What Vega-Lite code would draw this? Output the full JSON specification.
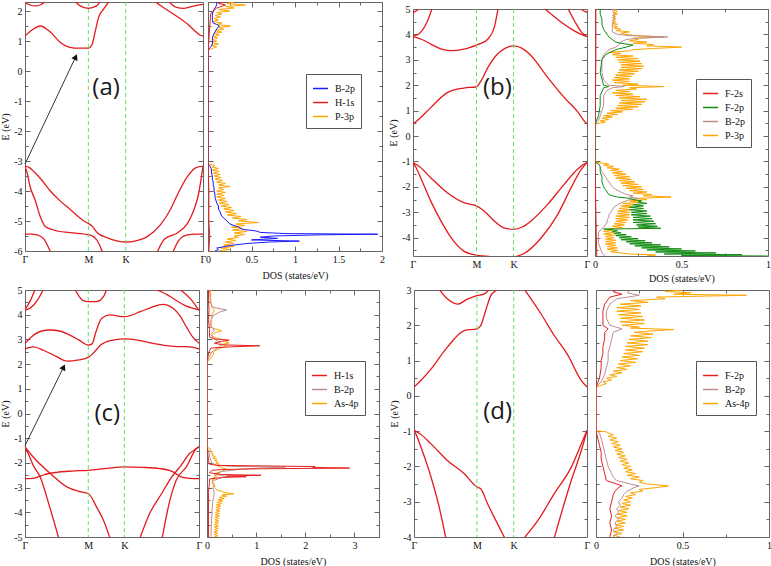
{
"$schema":"https://vega.github.io/schema/vega-lite/v6.json",
"background":"white",
"padding":{"left":0,"top":1,"right":0,"bottom":0},
"datasets":{
"bands":[
{"p":"a","b":"1","v":[[0,1.17],[0.1,1.35],[0.24,1.5],[0.4,1.3],[0.55,0.97],[0.71,0.79],[0.85,0.76],[1,0.76],[1.06,0.89],[1.11,1.33],[1.16,1.78],[1.24,2.06],[1.33,2.32]]},
{"p":"a","b":"2","v":[[2.04,2.33],[2.19,2.11],[2.35,1.89],[2.57,1.56],[2.7,1.3],[2.76,1.2],[2.81,1.17]]},
{"p":"a","b":"3","v":[[0,2.28],[0.08,2.2],[0.16,2.17],[0.24,2.2],[0.32,2.32]]},
{"p":"a","b":"4","v":[[0.79,2.33],[0.87,2.17],[1,2.09],[1.13,2.17],[1.19,2.32]]},
{"p":"a","b":"5","v":[[2.27,2.32],[2.38,2.13],[2.51,2.09],[2.67,2.17],[2.81,2.22]]},
{"p":"a","b":"6","v":[[0,-3.17],[0.07,-3.22],[0.13,-3.33],[0.25,-3.6],[0.4,-4],[0.55,-4.32],[0.71,-4.61],[0.85,-4.87],[0.93,-5],[1,-5.08],[1.06,-5.17],[1.14,-5.39],[1.3,-5.56],[1.45,-5.66],[1.59,-5.7],[1.75,-5.66],[1.93,-5.52],[2.14,-5.12],[2.3,-4.6],[2.4,-4.15],[2.55,-3.56],[2.7,-3.22],[2.81,-3.17]]},
{"p":"a","b":"7","v":[[0,-3.17],[0.04,-3.45],[0.08,-3.85],[0.16,-4.3],[0.24,-4.85],[0.32,-5.18],[0.45,-5.3],[0.71,-5.39],[1,-5.46],[1.08,-5.52],[1.14,-5.65],[1.22,-6.02]]},
{"p":"a","b":"8","v":[[2.09,-6.02],[2.2,-5.61],[2.41,-5.39],[2.57,-5.06],[2.67,-4.61],[2.74,-4.1],[2.78,-3.6],[2.81,-3.17]]},
{"p":"a","b":"9","v":[[0,-5.44],[0.1,-5.44],[0.19,-5.46],[0.29,-5.58],[0.4,-6.02]]},
{"p":"a","b":"10","v":[[2.34,-6.02],[2.42,-5.67],[2.55,-5.47],[2.7,-5.44],[2.81,-5.44]]},
{"p":"b","b":"1","v":[[0,0.47],[0.1,0.68],[0.28,1.12],[0.54,1.71],[0.8,1.89],[1,1.94],[1.07,2.17],[1.18,2.7],[1.33,3.23],[1.45,3.45],[1.584,3.55],[1.72,3.45],[1.86,3.16],[2.12,2.31],[2.38,1.52],[2.6,0.93],[2.68,0.65],[2.74,0.47]]},
{"p":"b","b":"2","v":[[0,3.91],[0.14,3.8],[0.28,3.62],[0.45,3.42],[0.62,3.36],[0.8,3.42],[1,3.58],[1.07,3.65],[1.18,3.82],[1.28,4.28],[1.34,5.02]]},
{"p":"b","b":"3","v":[[0,3.91],[0.12,4.08],[0.23,4.54],[0.3,5.02]]},
{"p":"b","b":"4","v":[[0,4.87],[0.05,4.92],[0.1,5.02]]},
{"p":"b","b":"5","v":[[2.07,5.02],[2.3,4.55],[2.5,4.2],[2.65,4],[2.74,3.91]]},
{"p":"b","b":"6","v":[[2.44,5.02],[2.55,4.5],[2.65,4.1],[2.74,3.91]]},
{"p":"b","b":"7","v":[[2.64,5.02],[2.69,4.92],[2.74,4.87]]},
{"p":"b","b":"8","v":[[0,-1.04],[0.1,-1.2],[0.28,-1.64],[0.54,-2.23],[0.8,-2.62],[1,-2.75],[1.12,-2.95],[1.28,-3.34],[1.43,-3.61],[1.584,-3.67],[1.72,-3.58],[1.86,-3.34],[2.12,-2.69],[2.38,-1.9],[2.59,-1.31],[2.68,-1.12],[2.74,-1.04]]},
{"p":"b","b":"9","v":[[0,-1.04],[0.05,-1.25],[0.12,-1.64],[0.28,-2.56],[0.44,-3.34],[0.6,-4],[0.8,-4.53],[1,-4.69],[1.2,-4.74]]},
{"p":"b","b":"10","v":[[1.62,-4.74],[1.75,-4.62],[2.02,-4],[2.28,-3.08],[2.49,-2.03],[2.65,-1.31],[2.74,-1.04]]},
{"p":"c","b":"1","v":[[0,2.62],[0.13,2.7],[0.3,2.55],[0.5,2.3],[0.66,2.12],[0.85,2.17],[1,2.27],[1.1,2.5],[1.2,2.78],[1.35,2.95],[1.57,3.02],[1.8,2.96],[2,2.85],[2.2,2.76],[2.4,2.71],[2.6,2.7],[2.75,2.62]]},
{"p":"c","b":"2","v":[[0,2.84],[0.1,3.1],[0.25,3.33],[0.4,3.38],[0.55,3.34],[0.7,3.18],[0.85,2.98],[1,2.77],[1.06,2.82],[1.12,3.3],[1.21,3.85],[1.34,3.99],[1.57,3.92],[1.82,4.12],[2,4.3],[2.18,4.42],[2.34,4.26],[2.45,3.95],[2.55,3.51],[2.65,3.1],[2.75,2.84]]},
{"p":"c","b":"3","v":[[0,4.2],[0.08,4.55],[0.16,5.02]]},
{"p":"c","b":"4","v":[[0,4.17],[0.1,4.3],[0.2,4.6],[0.29,5.02]]},
{"p":"c","b":"5","v":[[0.79,5.02],[0.92,4.57],[1,4.53],[1.13,4.53],[1.24,4.73],[1.29,5.02]]},
{"p":"c","b":"6","v":[[2.08,5.02],[2.25,4.8],[2.55,4.35],[2.75,4.2]]},
{"p":"c","b":"7","v":[[2.45,5.02],[2.63,4.6],[2.75,4.17]]},
{"p":"c","b":"8","v":[[0,-1.35],[0.13,-1.76],[0.4,-2.43],[0.66,-2.97],[0.85,-3.15],[1,-3.24],[1.13,-3.78],[1.24,-4.32],[1.34,-5.02]]},
{"p":"c","b":"9","v":[[0,-1.35],[0.05,-1.62],[0.13,-2.1],[0.24,-2.57],[0.39,-3.78],[0.53,-5.02]]},
{"p":"c","b":"10","v":[[0,-2.64],[0.12,-2.63],[0.2,-2.58],[0.3,-2.48],[0.5,-2.38],[0.75,-2.33],[1,-2.3],[1.3,-2.22],[1.57,-2.16],[1.85,-2.18],[2.13,-2.23],[2.34,-2.36],[2.47,-2.57],[2.6,-2.63],[2.75,-2.64]]},
{"p":"c","b":"11","v":[[1.82,-5.02],[1.97,-4.05],[2.16,-3.24],[2.32,-2.57],[2.47,-2.09],[2.6,-1.62],[2.71,-1.42],[2.75,-1.35]]},
{"p":"c","b":"12","v":[[2.17,-5.02],[2.29,-3.51],[2.39,-2.7],[2.55,-2.16],[2.71,-1.42],[2.75,-1.35]]},
{"p":"d","b":"1","v":[[0,0.25],[0.1,0.42],[0.27,0.76],[0.53,1.38],[0.8,1.85],[1,1.9],[1.06,1.99],[1.14,2.42],[1.22,2.84],[1.3,2.98],[1.34,3.02]]},
{"p":"d","b":"2","v":[[1.755,3.02],[2.02,2.32],[2.23,1.71],[2.45,1.14],[2.66,0.43],[2.75,0.25]]},
{"p":"d","b":"3","v":[[0.4,3.02],[0.53,2.75],[0.69,2.6],[0.85,2.74],[1,2.84],[1.12,2.89],[1.2,3.02]]},
{"p":"d","b":"4","v":[[0,-0.98],[0.1,-1.08],[0.27,-1.36],[0.53,-1.83],[0.8,-2.21],[1,-2.58],[1.06,-2.63],[1.17,-3.06],[1.3,-3.53],[1.44,-4.02]]},
{"p":"d","b":"5","v":[[1.755,-4.02],[1.97,-3.53],[2.23,-2.77],[2.5,-2.02],[2.66,-1.36],[2.75,-0.98]]},
{"p":"d","b":"6","v":[[0,-0.98],[0.04,-1.12],[0.11,-1.45],[0.27,-2.3],[0.4,-3.15],[0.505,-4.02]]},
{"p":"d","b":"7","v":[[2.23,-4.02],[2.34,-3.34],[2.5,-2.4],[2.66,-1.55],[2.75,-0.98]]}
],
"dos":[
{"p":"a","s":"P-3p","v":[[-6,0.12],[-5.95,0.25],[-5.9,0.15],[-5.85,0.3],[-5.8,0.18],[-5.75,0.3],[-5.7,0.2],[-5.65,0.32],[-5.6,0.22],[-5.55,0.35],[-5.5,0.3],[-5.45,0.42],[-5.4,0.3],[-5.35,0.45],[-5.3,0.28],[-5.25,0.4],[-5.2,0.27],[-5.15,0.42],[-5.1,0.32],[-5.05,0.58],[-5,0.35],[-4.95,0.45],[-4.9,0.28],[-4.85,0.38],[-4.8,0.22],[-4.75,0.33],[-4.7,0.2],[-4.65,0.3],[-4.6,0.18],[-4.55,0.27],[-4.5,0.15],[-4.45,0.24],[-4.4,0.13],[-4.35,0.22],[-4.3,0.12],[-4.25,0.2],[-4.2,0.1],[-4.15,0.18],[-4.1,0.1],[-4.05,0.2],[-4,0.1],[-3.95,0.18],[-3.9,0.12],[-3.85,0.25],[-3.8,0.12],[-3.75,0.2],[-3.7,0.1],[-3.65,0.17],[-3.6,0.08],[-3.55,0.15],[-3.5,0.07],[-3.45,0.14],[-3.4,0.06],[-3.35,0.13],[-3.3,0.05],[-3.25,0.12],[-3.2,0.05],[-3.15,0.08],[-3.1,0],[0.7,0],[0.75,0.05],[0.8,0.1],[0.85,0.04],[0.9,0.12],[0.95,0.05],[1,0.1],[1.05,0.05],[1.1,0.11],[1.15,0.06],[1.2,0.13],[1.25,0.07],[1.3,0.16],[1.35,0.08],[1.4,0.18],[1.45,0.12],[1.5,0.26],[1.55,0.1],[1.6,0.16],[1.65,0.06],[1.7,0.12],[1.75,0.07],[1.8,0.14],[1.85,0.08],[1.9,0.16],[1.95,0.1],[2,0.25],[2.05,0.12],[2.1,0.3],[2.15,0.2],[2.2,0.43],[2.25,0.22],[2.3,0.3]]},
{"p":"a","s":"B-2p","v":[[-6,0.08],[-5.95,0.12],[-5.9,0.1],[-5.85,0.2],[-5.8,0.3],[-5.75,0.45],[-5.7,0.7],[-5.67,1.05],[-5.63,0.5],[-5.58,0.8],[-5.54,0.6],[-5.5,0.75],[-5.46,1.3],[-5.44,1.95],[-5.42,0.9],[-5.38,0.6],[-5.33,0.55],[-5.28,0.4],[-5.2,0.35],[-5.1,0.25],[-5,0.22],[-4.9,0.18],[-4.8,0.15],[-4.7,0.14],[-4.6,0.12],[-4.5,0.12],[-4.4,0.1],[-4.3,0.09],[-4.2,0.08],[-4.1,0.08],[-4,0.07],[-3.9,0.07],[-3.8,0.06],[-3.7,0.06],[-3.6,0.05],[-3.5,0.05],[-3.4,0.04],[-3.3,0.04],[-3.2,0.03],[-3.1,0],[0.7,0],[0.8,0.03],[0.9,0.05],[1,0.05],[1.1,0.05],[1.2,0.06],[1.3,0.08],[1.4,0.1],[1.5,0.13],[1.55,0.1],[1.6,0.06],[1.7,0.05],[1.8,0.05],[1.9,0.05],[2,0.06],[2.1,0.08],[2.2,0.1],[2.3,0.1]]},
{"p":"a","s":"H-1s","v":[[-6,0.01],[-5.5,0.02],[-5,0.01],[-4,0.01],[-3.1,0],[0.7,0],[1,0.01],[1.5,0.02],[1.9,0.03],[2,0.06],[2.1,0.1],[2.2,0.2],[2.25,0.12],[2.3,0.2]]},
{"p":"b","s":"P-3p","v":[[-4.72,0.3],[-4.68,0.35],[-4.64,0.2],[-4.6,0.15],[-4.55,0.09],[-4.5,0.13],[-4.45,0.07],[-4.4,0.13],[-4.35,0.07],[-4.3,0.12],[-4.25,0.06],[-4.2,0.12],[-4.15,0.06],[-4.1,0.12],[-4.05,0.06],[-4,0.11],[-3.95,0.06],[-3.9,0.11],[-3.85,0.05],[-3.8,0.11],[-3.75,0.05],[-3.7,0.1],[-3.65,0.08],[-3.6,0.16],[-3.55,0.1],[-3.5,0.17],[-3.45,0.11],[-3.4,0.18],[-3.35,0.12],[-3.3,0.19],[-3.25,0.12],[-3.2,0.2],[-3.15,0.12],[-3.1,0.2],[-3.05,0.13],[-3,0.2],[-2.95,0.13],[-2.9,0.21],[-2.85,0.14],[-2.8,0.22],[-2.75,0.15],[-2.7,0.24],[-2.65,0.16],[-2.6,0.26],[-2.55,0.2],[-2.5,0.3],[-2.45,0.25],[-2.4,0.44],[-2.35,0.28],[-2.3,0.33],[-2.25,0.22],[-2.2,0.3],[-2.15,0.2],[-2.1,0.28],[-2.05,0.18],[-2,0.27],[-1.95,0.16],[-1.9,0.25],[-1.85,0.15],[-1.8,0.23],[-1.75,0.14],[-1.7,0.21],[-1.65,0.12],[-1.6,0.2],[-1.55,0.11],[-1.5,0.18],[-1.45,0.1],[-1.4,0.16],[-1.35,0.09],[-1.3,0.14],[-1.25,0.07],[-1.2,0.11],[-1.15,0.05],[-1.1,0.08],[-1.05,0.03],[-1.02,0],[0.47,0],[0.5,0.02],[0.55,0.06],[0.6,0.03],[0.65,0.08],[0.7,0.04],[0.75,0.1],[0.8,0.05],[0.85,0.13],[0.9,0.07],[0.95,0.16],[1,0.09],[1.05,0.22],[1.1,0.12],[1.15,0.25],[1.2,0.13],[1.25,0.27],[1.3,0.14],[1.35,0.29],[1.4,0.15],[1.45,0.3],[1.5,0.14],[1.55,0.26],[1.6,0.12],[1.65,0.22],[1.7,0.1],[1.75,0.2],[1.8,0.12],[1.85,0.24],[1.9,0.2],[1.95,0.4],[2,0.16],[2.05,0.25],[2.1,0.11],[2.15,0.2],[2.2,0.1],[2.25,0.2],[2.3,0.11],[2.35,0.21],[2.4,0.12],[2.45,0.23],[2.5,0.13],[2.55,0.25],[2.6,0.14],[2.65,0.27],[2.7,0.15],[2.75,0.28],[2.8,0.15],[2.85,0.27],[2.9,0.14],[2.95,0.26],[3,0.13],[3.05,0.25],[3.1,0.12],[3.15,0.22],[3.2,0.1],[3.25,0.15],[3.3,0.08],[3.35,0.2],[3.4,0.22],[3.45,0.35],[3.5,0.5],[3.55,0.3],[3.6,0.34],[3.65,0.22],[3.7,0.3],[3.75,0.2],[3.8,0.25],[3.85,0.22],[3.9,0.4],[3.95,0.25],[4,0.18],[4.05,0.15],[4.1,0.2],[4.15,0.12],[4.2,0.15],[4.25,0.11],[4.3,0.13],[4.35,0.1],[4.4,0.13],[4.45,0.1],[4.5,0.12],[4.55,0.1],[4.6,0.12],[4.65,0.1],[4.7,0.12],[4.75,0.1],[4.8,0.13],[4.85,0.11],[4.9,0.13],[4.95,0.11],[5,0.12]]},
{"p":"b","s":"B-2p","v":[[-4.72,0.06],[-4.6,0.04],[-4.4,0.03],[-4.2,0.02],[-4,0.02],[-3.8,0.02],[-3.7,0.03],[-3.6,0.05],[-3.5,0.06],[-3.4,0.07],[-3.3,0.07],[-3.2,0.08],[-3.1,0.08],[-3,0.09],[-2.9,0.1],[-2.8,0.11],[-2.7,0.13],[-2.6,0.16],[-2.5,0.2],[-2.45,0.25],[-2.4,0.2],[-2.35,0.22],[-2.3,0.18],[-2.2,0.15],[-2.1,0.12],[-2,0.1],[-1.9,0.09],[-1.8,0.08],[-1.7,0.07],[-1.6,0.06],[-1.5,0.05],[-1.4,0.04],[-1.3,0.03],[-1.2,0.03],[-1.1,0.02],[-1.02,0],[0.47,0],[0.6,0.02],[0.8,0.03],[1,0.04],[1.2,0.05],[1.4,0.05],[1.6,0.05],[1.8,0.07],[1.9,0.1],[1.95,0.17],[2,0.08],[2.2,0.05],[2.5,0.04],[2.8,0.04],[3,0.04],[3.2,0.05],[3.4,0.08],[3.5,0.12],[3.6,0.14],[3.7,0.15],[3.8,0.18],[3.85,0.25],[3.9,0.42],[3.95,0.2],[4,0.13],[4.1,0.1],[4.2,0.1],[4.4,0.1],[4.6,0.11],[4.8,0.11],[5,0.1]]},
{"p":"b","s":"F-2p","v":[[-4.72,1],[-4.7,0.5],[-4.67,0.85],[-4.64,0.4],[-4.6,0.7],[-4.56,0.35],[-4.52,0.58],[-4.48,0.3],[-4.44,0.5],[-4.4,0.27],[-4.36,0.43],[-4.32,0.23],[-4.28,0.38],[-4.24,0.2],[-4.2,0.33],[-4.16,0.18],[-4.12,0.29],[-4.08,0.15],[-4.04,0.25],[-4,0.14],[-3.96,0.21],[-3.92,0.12],[-3.88,0.18],[-3.84,0.11],[-3.8,0.15],[-3.76,0.1],[-3.72,0.13],[-3.68,0.09],[-3.66,0.05],[-3.63,0.38],[-3.58,0.25],[-3.55,0.36],[-3.5,0.24],[-3.45,0.35],[-3.4,0.22],[-3.35,0.34],[-3.3,0.22],[-3.25,0.33],[-3.2,0.22],[-3.15,0.32],[-3.1,0.21],[-3.05,0.3],[-3,0.21],[-2.95,0.3],[-2.9,0.2],[-2.85,0.28],[-2.8,0.2],[-2.75,0.28],[-2.7,0.22],[-2.65,0.3],[-2.6,0.25],[-2.55,0.27],[-2.5,0.22],[-2.45,0.2],[-2.4,0.13],[-2.35,0.1],[-2.3,0.08],[-2.2,0.07],[-2.1,0.06],[-2,0.05],[-1.8,0.04],[-1.6,0.04],[-1.4,0.03],[-1.2,0.03],[-1.1,0.02],[-1.02,0],[0.47,0],[0.8,0.02],[1.2,0.03],[1.6,0.03],[1.9,0.05],[1.95,0.08],[2,0.05],[2.5,0.03],[3,0.04],[3.2,0.06],[3.4,0.12],[3.5,0.18],[3.58,0.22],[3.65,0.15],[3.7,0.12],[3.8,0.1],[3.9,0.08],[4,0.07],[4.2,0.05],[4.4,0.04],[4.6,0.04],[4.8,0.03],[5,0.03]]},
{"p":"b","s":"F-2s","v":[[-4.72,0.01],[-3,0.005],[-1.02,0],[0.47,0],[3,0.005],[5,0.005]]},
{"p":"c","s":"As-4p","v":[[-5,0.15],[-4.95,0.22],[-4.9,0.14],[-4.85,0.22],[-4.8,0.14],[-4.75,0.22],[-4.7,0.15],[-4.65,0.23],[-4.6,0.15],[-4.55,0.23],[-4.5,0.15],[-4.45,0.23],[-4.4,0.16],[-4.35,0.24],[-4.3,0.16],[-4.25,0.24],[-4.2,0.16],[-4.15,0.25],[-4.1,0.17],[-4.05,0.26],[-4,0.17],[-3.95,0.26],[-3.9,0.18],[-3.85,0.27],[-3.8,0.18],[-3.75,0.28],[-3.7,0.19],[-3.65,0.3],[-3.6,0.2],[-3.55,0.32],[-3.5,0.22],[-3.45,0.35],[-3.4,0.25],[-3.35,0.4],[-3.3,0.3],[-3.25,0.55],[-3.2,0.35],[-3.15,0.3],[-3.1,0.2],[-3.05,0.18],[-3,0.15],[-2.95,0.17],[-2.9,0.12],[-2.85,0.15],[-2.8,0.1],[-2.75,0.14],[-2.7,0.1],[-2.65,0.15],[-2.6,0.12],[-2.55,0.2],[-2.5,0.15],[-2.45,0.25],[-2.4,0.2],[-2.35,0.3],[-2.3,0.35],[-2.25,0.4],[-2.2,0.3],[-2.15,0.25],[-2.1,0.2],[-2.05,0.25],[-2,0.18],[-1.95,0.22],[-1.9,0.15],[-1.85,0.2],[-1.8,0.12],[-1.75,0.17],[-1.7,0.1],[-1.65,0.13],[-1.6,0.08],[-1.55,0.11],[-1.5,0.06],[-1.45,0.08],[-1.4,0.04],[-1.35,0],[2.1,0],[2.15,0.04],[2.2,0.06],[2.25,0.08],[2.3,0.1],[2.35,0.12],[2.4,0.14],[2.45,0.12],[2.5,0.15],[2.55,0.18],[2.6,0.22],[2.65,0.28],[2.7,0.35],[2.75,0.4],[2.8,0.3],[2.85,0.45],[2.9,0.38],[2.95,0.42],[3,0.3],[3.05,0.2],[3.1,0.14],[3.15,0.1],[3.2,0.12],[3.25,0.15],[3.3,0.2],[3.35,0.3],[3.4,0.22],[3.45,0.12],[3.5,0.1],[3.6,0.08],[3.7,0.08],[3.8,0.09],[3.9,0.1],[4,0.11],[4.1,0.13],[4.2,0.15],[4.3,0.1],[4.4,0.09],[4.5,0.08],[4.6,0.08],[4.7,0.07],[4.8,0.08],[4.9,0.07],[5,0.08]]},
{"p":"c","s":"B-2p","v":[[-5,0.08],[-4.5,0.09],[-4,0.1],[-3.5,0.12],[-3.24,0.15],[-3,0.12],[-2.9,0.15],[-2.8,0.1],[-2.7,0.15],[-2.6,0.3],[-2.55,0.4],[-2.5,0.25],[-2.45,0.15],[-2.35,0.3],[-2.3,0.5],[-2.25,0.7],[-2.2,1.2],[-2.17,1.6],[-2.14,0.5],[-2.1,0.2],[-2,0.1],[-1.8,0.06],[-1.6,0.04],[-1.45,0.02],[-1.35,0],[2.1,0],[2.3,0.05],[2.5,0.1],[2.7,0.25],[2.78,0.3],[2.9,0.25],[3,0.15],[3.2,0.08],[3.38,0.15],[3.5,0.08],[3.8,0.08],[4,0.15],[4.1,0.25],[4.19,0.4],[4.3,0.12],[4.5,0.07],[4.8,0.06],[5,0.05]]},
{"p":"c","s":"H-1s","v":[[-5,0.03],[-4,0.03],[-3.2,0.03],[-3,0.04],[-2.8,0.05],[-2.65,0.05],[-2.59,0.3],[-2.56,0.8],[-2.53,0.4],[-2.5,1.1],[-2.47,0.3],[-2.4,0.05],[-2.3,0.1],[-2.27,0.3],[-2.24,1],[-2.21,2.9],[-2.18,2.15],[-2.15,2.2],[-2.13,1.5],[-2.1,0.2],[-2.05,0.05],[-1.9,0.03],[-1.7,0.02],[-1.5,0.01],[-1.35,0],[2.1,0],[2.3,0.02],[2.5,0.04],[2.65,0.08],[2.7,0.5],[2.74,1.07],[2.78,0.3],[2.85,0.15],[2.92,0.3],[2.97,0.45],[3.02,0.15],[3.1,0.05],[3.4,0.05],[3.8,0.03],[4.2,0.04],[4.6,0.03],[5,0.03]]},
{"p":"d","s":"As-4p","v":[[-4,0.14],[-3.95,0.1],[-3.9,0.15],[-3.85,0.1],[-3.8,0.16],[-3.75,0.11],[-3.7,0.16],[-3.65,0.11],[-3.6,0.17],[-3.55,0.12],[-3.5,0.17],[-3.45,0.12],[-3.4,0.18],[-3.35,0.12],[-3.3,0.18],[-3.25,0.13],[-3.2,0.19],[-3.15,0.14],[-3.1,0.2],[-3.05,0.15],[-3,0.2],[-2.95,0.16],[-2.9,0.21],[-2.85,0.17],[-2.8,0.23],[-2.75,0.2],[-2.7,0.27],[-2.65,0.25],[-2.6,0.35],[-2.55,0.42],[-2.5,0.3],[-2.45,0.25],[-2.4,0.27],[-2.35,0.2],[-2.3,0.25],[-2.25,0.18],[-2.2,0.23],[-2.15,0.17],[-2.1,0.21],[-2.05,0.16],[-2,0.2],[-1.95,0.15],[-1.9,0.19],[-1.85,0.14],[-1.8,0.18],[-1.75,0.13],[-1.7,0.17],[-1.65,0.12],[-1.6,0.16],[-1.55,0.11],[-1.5,0.15],[-1.45,0.1],[-1.4,0.14],[-1.35,0.09],[-1.3,0.13],[-1.25,0.08],[-1.2,0.12],[-1.15,0.07],[-1.1,0.1],[-1.05,0.07],[-1.02,0.06],[-0.99,0],[0.25,0],[0.3,0.03],[0.35,0.06],[0.4,0.04],[0.45,0.09],[0.5,0.06],[0.55,0.12],[0.6,0.08],[0.65,0.15],[0.7,0.1],[0.75,0.18],[0.8,0.12],[0.85,0.2],[0.9,0.13],[0.95,0.23],[1,0.14],[1.05,0.24],[1.1,0.15],[1.15,0.25],[1.2,0.16],[1.25,0.27],[1.3,0.17],[1.35,0.28],[1.4,0.17],[1.45,0.3],[1.5,0.18],[1.55,0.3],[1.6,0.19],[1.65,0.32],[1.7,0.2],[1.75,0.33],[1.8,0.22],[1.85,0.35],[1.88,0.45],[1.92,0.2],[1.95,0.25],[2,0.15],[2.05,0.28],[2.1,0.14],[2.15,0.28],[2.2,0.14],[2.25,0.27],[2.3,0.13],[2.35,0.26],[2.4,0.12],[2.45,0.25],[2.5,0.12],[2.55,0.26],[2.6,0.14],[2.65,0.3],[2.7,0.2],[2.75,0.4],[2.8,0.35],[2.85,0.87],[2.88,0.45],[2.92,0.55],[2.96,0.4],[3,0.5]]},
{"p":"d","s":"B-2p","v":[[-4,0.1],[-3.9,0.12],[-3.8,0.1],[-3.7,0.12],[-3.6,0.11],[-3.5,0.13],[-3.4,0.11],[-3.3,0.13],[-3.2,0.12],[-3.1,0.14],[-3,0.13],[-2.9,0.15],[-2.8,0.16],[-2.7,0.18],[-2.6,0.22],[-2.55,0.25],[-2.5,0.2],[-2.4,0.12],[-2.3,0.1],[-2.2,0.09],[-2.1,0.08],[-2,0.07],[-1.8,0.06],[-1.6,0.05],[-1.4,0.04],[-1.2,0.03],[-1.05,0.02],[-0.99,0],[0.25,0],[0.4,0.03],[0.6,0.05],[0.8,0.06],[1,0.07],[1.2,0.07],[1.4,0.08],[1.6,0.09],[1.8,0.1],[1.9,0.15],[2,0.08],[2.2,0.06],[2.4,0.06],[2.6,0.08],[2.75,0.12],[2.85,0.25],[2.92,0.18],[3,0.2]]},
{"p":"d","s":"F-2p","v":[[-4,0.08],[-3.8,0.09],[-3.6,0.08],[-3.4,0.09],[-3.2,0.08],[-3,0.09],[-2.8,0.1],[-2.7,0.11],[-2.6,0.13],[-2.55,0.15],[-2.5,0.12],[-2.4,0.06],[-2.2,0.05],[-2,0.04],[-1.8,0.03],[-1.6,0.03],[-1.4,0.02],[-1.2,0.01],[-0.99,0],[0.25,0],[0.5,0.02],[0.8,0.03],[1,0.03],[1.2,0.04],[1.4,0.04],[1.6,0.05],[1.8,0.05],[1.9,0.07],[2,0.04],[2.2,0.04],[2.4,0.04],[2.6,0.05],[2.8,0.08],[2.88,0.15],[2.95,0.1],[3,0.12]]}
]
},
"vconcat":[
{"hconcat":[
 {"hconcat":[
  {"width":178,"height":249,
   "layer":[
    {"data":{"name":"bands"},"transform":[{"filter":"datum.p==='a'"},{"flatten":["v"]}],
     "mark":{"type":"line","color":"#e41a1c","strokeWidth":1.3,"interpolate":"monotone","clip":true},
     "encoding":{
      "x":{"field":"v[0]","type":"quantitative","scale":{"domain":[0,2.81],"nice":false,"zero":false},"axis":{"orient":"bottom","values":[0,1,1.59,2.81],"labelExpr":"datum.value<0.5||datum.value>2?'Γ':datum.value<1.3?'M':'K'","ticks":false,"labelPadding":3,"title":null}},
      "y":{"field":"v[1]","type":"quantitative","scale":{"domain":[-6,2.3],"nice":false,"zero":false},"axis":{"orient":"left","values":[-6,-5.5,-5,-4.5,-4,-3.5,-3,-2.5,-2,-1.5,-1,-0.5,0,0.5,1,1.5,2],"labelExpr":"datum.value%1===0?''+datum.value:''","tickSize":{"condition":{"test":"datum.value%1!==0","value":-3},"value":-5},"labelPadding":8,"title":"E (eV)","titlePadding":3}},
      "detail":{"field":"b"}}},
    {"data":{"values":[]},"mark":"point","encoding":{
      "x":{"field":"x","type":"quantitative","scale":{"domain":[0,2.81],"nice":false,"zero":false},"axis":null},
      "y":{"field":"y","type":"quantitative","scale":{"domain":[-6,2.3],"nice":false,"zero":false},"axis":{"orient":"right","values":[-6,-5.5,-5,-4.5,-4,-3.5,-3,-2.5,-2,-1.5,-1,-0.5,0,0.5,1,1.5,2],"labels":false,"tickSize":{"condition":{"test":"datum.value%1!==0","value":-3},"value":-5},"title":null}}}},
    {"data":{"values":[{"k":1},{"k":1.59}]},"mark":{"type":"rule","color":"#66dd66","strokeDash":[4,3],"strokeWidth":1},
     "encoding":{"x":{"field":"k","type":"quantitative","scale":{"domain":[0,2.81],"nice":false,"zero":false},"axis":null}}},
    {"data":{"values":[{"k":0,"E":-3.1,"k2":0.8,"E2":0.47}]},"mark":{"type":"rule","color":"#333","strokeWidth":1},
     "encoding":{"x":{"field":"k","type":"quantitative","scale":{"domain":[0,2.81],"nice":false,"zero":false},"axis":null},"y":{"field":"E","type":"quantitative","scale":{"domain":[-6,2.3],"nice":false,"zero":false},"axis":null},"x2":{"field":"k2"},"y2":{"field":"E2"}}},
    {"data":{"values":[{"k":0.8,"E":0.47}]},"mark":{"type":"point","shape":"triangle-up","angle":24.5,"size":45,"filled":true,"color":"#111","opacity":1},
     "encoding":{"x":{"field":"k","type":"quantitative","scale":{"domain":[0,2.81],"nice":false,"zero":false},"axis":null},"y":{"field":"E","type":"quantitative","scale":{"domain":[-6,2.3],"nice":false,"zero":false},"axis":null}}},
    {"data":{"values":[{"k":1.28,"E":-0.55,"t":"(a)"}]},"mark":{"type":"text","font":"Open Sans","fontSize":24,"color":"#1a1a1a"},
     "encoding":{"x":{"field":"k","type":"quantitative","scale":{"domain":[0,2.81],"nice":false,"zero":false},"axis":null},"y":{"field":"E","type":"quantitative","scale":{"domain":[-6,2.3],"nice":false,"zero":false},"axis":null},"text":{"field":"t"}}}
   ],
   "resolve":{"axis":{"x":"independent","y":"independent"}}},
  {"width":174,"height":249,
   "layer":[
    {"data":{"name":"dos"},"transform":[{"filter":"datum.p==='a'"},{"flatten":["v"]}],
     "mark":{"type":"line","strokeWidth":1,"clip":true},
     "encoding":{
      "x":{"field":"v[1]","type":"quantitative","scale":{"domain":[0,2],"nice":false,"zero":false},"axis":{"orient":"bottom","values":[0,0.25,0.5,0.75,1,1.25,1.5,1.75,2],"labelExpr":"datum.value%0.5===0?''+datum.value:''","tickSize":{"condition":{"test":"datum.value%0.5!==0","value":-3},"value":-5},"labelPadding":8,"title":"DOS (states/eV)","titlePadding":4}},
      "y":{"field":"v[0]","type":"quantitative","scale":{"domain":[-6,2.3],"nice":false,"zero":false},"axis":{"orient":"left","values":[-6,-5.5,-5,-4.5,-4,-3.5,-3,-2.5,-2,-1.5,-1,-0.5,0,0.5,1,1.5,2],"labels":false,"tickSize":{"condition":{"test":"datum.value%1!==0","value":-3},"value":-5},"title":null}},
      "color":{"field":"s","type":"nominal","scale":{"domain":["B-2p","H-1s","P-3p"],"range":["#1a1aff","#e8201c","#ffa500"]},"legend":{"orient":"none","legendX":98,"legendY":72,"title":null}},
      "order":{"field":"v[0]","type":"quantitative"}}},
    {"data":{"values":[]},"mark":"point","encoding":{
      "x":{"field":"x","type":"quantitative","scale":{"domain":[0,2],"nice":false,"zero":false},"axis":{"orient":"top","values":[0,0.25,0.5,0.75,1,1.25,1.5,1.75,2],"labels":false,"tickSize":{"condition":{"test":"datum.value%0.5!==0","value":-3},"value":-5},"title":null}},
      "y":{"field":"y","type":"quantitative","scale":{"domain":[-6,2.3],"nice":false,"zero":false},"axis":{"orient":"right","values":[-6,-5.5,-5,-4.5,-4,-3.5,-3,-2.5,-2,-1.5,-1,-0.5,0,0.5,1,1.5,2],"labels":false,"tickSize":{"condition":{"test":"datum.value%1!==0","value":-3},"value":-5},"title":null}}}}
   ],
   "resolve":{"axis":{"x":"independent","y":"independent"}}}
 ],"spacing":5,"bounds":"flush","resolve":{"scale":{"color":"independent"}}},
 {"vconcat":[
  {"width":10,"height":1,"data":{"values":[]},"mark":"point","view":{"stroke":null}},
  {"hconcat":[
  {"width":174,"height":247,
   "layer":[
    {"data":{"name":"bands"},"transform":[{"filter":"datum.p==='b'"},{"flatten":["v"]}],
     "mark":{"type":"line","color":"#e41a1c","strokeWidth":1.3,"interpolate":"monotone","clip":true},
     "encoding":{
      "x":{"field":"v[0]","type":"quantitative","scale":{"domain":[0,2.74],"nice":false,"zero":false},"axis":{"orient":"bottom","values":[0,1,1.584,2.74],"labelExpr":"datum.value<0.5||datum.value>2?'Γ':datum.value<1.3?'M':'K'","ticks":false,"labelPadding":3,"title":null}},
      "y":{"field":"v[1]","type":"quantitative","scale":{"domain":[-4.72,5],"nice":false,"zero":false},"axis":{"orient":"left","values":[-4.5,-4,-3.5,-3,-2.5,-2,-1.5,-1,-0.5,0,0.5,1,1.5,2,2.5,3,3.5,4,4.5,5],"labelExpr":"datum.value%1===0?''+datum.value:''","tickSize":{"condition":{"test":"datum.value%1!==0","value":-3},"value":-5},"labelPadding":8,"title":"E (eV)","titlePadding":3}},
      "detail":{"field":"b"}}},
    {"data":{"values":[]},"mark":"point","encoding":{
      "x":{"field":"x","type":"quantitative","scale":{"domain":[0,2.74],"nice":false,"zero":false},"axis":null},
      "y":{"field":"y","type":"quantitative","scale":{"domain":[-4.72,5],"nice":false,"zero":false},"axis":{"orient":"right","values":[-4.5,-4,-3.5,-3,-2.5,-2,-1.5,-1,-0.5,0,0.5,1,1.5,2,2.5,3,3.5,4,4.5,5],"labels":false,"tickSize":{"condition":{"test":"datum.value%1!==0","value":-3},"value":-5},"title":null}}}},
    {"data":{"values":[{"k":1},{"k":1.584}]},"mark":{"type":"rule","color":"#66dd66","strokeDash":[4,3],"strokeWidth":1},
     "encoding":{"x":{"field":"k","type":"quantitative","scale":{"domain":[0,2.74],"nice":false,"zero":false},"axis":null}}},
    {"data":{"values":[{"k":1.33,"E":1.91,"t":"(b)"}]},"mark":{"type":"text","font":"Open Sans","fontSize":24,"color":"#1a1a1a"},
     "encoding":{"x":{"field":"k","type":"quantitative","scale":{"domain":[0,2.74],"nice":false,"zero":false},"axis":null},"y":{"field":"E","type":"quantitative","scale":{"domain":[-4.72,5],"nice":false,"zero":false},"axis":null},"text":{"field":"t"}}}
   ],
   "resolve":{"axis":{"x":"independent","y":"independent"}}},
  {"width":173,"height":247,
   "layer":[
    {"data":{"name":"dos"},"transform":[{"filter":"datum.p==='b'"},{"flatten":["v"]}],
     "mark":{"type":"line","strokeWidth":1,"clip":true},
     "encoding":{
      "x":{"field":"v[1]","type":"quantitative","scale":{"domain":[0,1],"nice":false,"zero":false},"axis":{"orient":"bottom","values":[0,0.25,0.5,0.75,1],"labelExpr":"datum.value%0.5===0?''+datum.value:''","tickSize":{"condition":{"test":"datum.value%0.5!==0","value":-3},"value":-5},"labelPadding":8,"title":"DOS (states/eV)","titlePadding":2}},
      "y":{"field":"v[0]","type":"quantitative","scale":{"domain":[-4.72,5],"nice":false,"zero":false},"axis":{"orient":"left","values":[-4.5,-4,-3.5,-3,-2.5,-2,-1.5,-1,-0.5,0,0.5,1,1.5,2,2.5,3,3.5,4,4.5,5],"labels":false,"tickSize":{"condition":{"test":"datum.value%1!==0","value":-3},"value":-5},"title":null}},
      "color":{"field":"s","type":"nominal","scale":{"domain":["F-2s","F-2p","B-2p","P-3p"],"range":["#e8201c","#128c12","#bc8f8f","#ffa500"]},"legend":{"orient":"none","legendX":101,"legendY":70,"title":null}},
      "order":{"field":"v[0]","type":"quantitative"}}},
    {"data":{"values":[]},"mark":"point","encoding":{
      "x":{"field":"x","type":"quantitative","scale":{"domain":[0,1],"nice":false,"zero":false},"axis":{"orient":"top","values":[0,0.25,0.5,0.75,1],"labels":false,"tickSize":{"condition":{"test":"datum.value%0.5!==0","value":-3},"value":-5},"title":null}},
      "y":{"field":"y","type":"quantitative","scale":{"domain":[-4.72,5],"nice":false,"zero":false},"axis":{"orient":"right","values":[-4.5,-4,-3.5,-3,-2.5,-2,-1.5,-1,-0.5,0,0.5,1,1.5,2,2.5,3,3.5,4,4.5,5],"labels":false,"tickSize":{"condition":{"test":"datum.value%1!==0","value":-3},"value":-5},"title":null}}}}
   ],
   "resolve":{"axis":{"x":"independent","y":"independent"}}}
  ],"spacing":8,"bounds":"flush","resolve":{"scale":{"color":"independent"}}}
 ],"spacing":0,"resolve":{"scale":{"color":"independent"}}}
],"spacing":3,"resolve":{"scale":{"color":"independent"}}},
{"hconcat":[
 {"hconcat":[
  {"width":174,"height":247,
   "layer":[
    {"data":{"name":"bands"},"transform":[{"filter":"datum.p==='c'"},{"flatten":["v"]}],
     "mark":{"type":"line","color":"#e41a1c","strokeWidth":1.3,"interpolate":"monotone","clip":true},
     "encoding":{
      "x":{"field":"v[0]","type":"quantitative","scale":{"domain":[0,2.75],"nice":false,"zero":false},"axis":{"orient":"bottom","values":[0,1,1.57,2.75],"labelExpr":"datum.value<0.5||datum.value>2?'Γ':datum.value<1.3?'M':'K'","ticks":false,"labelPadding":3,"title":null}},
      "y":{"field":"v[1]","type":"quantitative","scale":{"domain":[-5,5],"nice":false,"zero":false},"axis":{"orient":"left","values":[-5,-4.5,-4,-3.5,-3,-2.5,-2,-1.5,-1,-0.5,0,0.5,1,1.5,2,2.5,3,3.5,4,4.5,5],"labelExpr":"datum.value%1===0?''+datum.value:''","tickSize":{"condition":{"test":"datum.value%1!==0","value":-3},"value":-5},"labelPadding":8,"title":"E (eV)","titlePadding":3}},
      "detail":{"field":"b"}}},
    {"data":{"values":[]},"mark":"point","encoding":{
      "x":{"field":"x","type":"quantitative","scale":{"domain":[0,2.75],"nice":false,"zero":false},"axis":null},
      "y":{"field":"y","type":"quantitative","scale":{"domain":[-5,5],"nice":false,"zero":false},"axis":{"orient":"right","values":[-5,-4.5,-4,-3.5,-3,-2.5,-2,-1.5,-1,-0.5,0,0.5,1,1.5,2,2.5,3,3.5,4,4.5,5],"labels":false,"tickSize":{"condition":{"test":"datum.value%1!==0","value":-3},"value":-5},"title":null}}}},
    {"data":{"values":[{"k":1},{"k":1.57}]},"mark":{"type":"rule","color":"#66dd66","strokeDash":[4,3],"strokeWidth":1},
     "encoding":{"x":{"field":"k","type":"quantitative","scale":{"domain":[0,2.75],"nice":false,"zero":false},"axis":null}}},
    {"data":{"values":[{"k":0,"E":-1.3,"k2":0.61,"E2":1.88}]},"mark":{"type":"rule","color":"#333","strokeWidth":1},
     "encoding":{"x":{"field":"k","type":"quantitative","scale":{"domain":[0,2.75],"nice":false,"zero":false},"axis":null},"y":{"field":"E","type":"quantitative","scale":{"domain":[-5,5],"nice":false,"zero":false},"axis":null},"x2":{"field":"k2"},"y2":{"field":"E2"}}},
    {"data":{"values":[{"k":0.61,"E":1.88}]},"mark":{"type":"point","shape":"triangle-up","angle":25.9,"size":45,"filled":true,"color":"#111","opacity":1},
     "encoding":{"x":{"field":"k","type":"quantitative","scale":{"domain":[0,2.75],"nice":false,"zero":false},"axis":null},"y":{"field":"E","type":"quantitative","scale":{"domain":[-5,5],"nice":false,"zero":false},"axis":null}}},
    {"data":{"values":[{"k":1.3,"E":0,"t":"(c)"}]},"mark":{"type":"text","font":"Open Sans","fontSize":24,"color":"#1a1a1a"},
     "encoding":{"x":{"field":"k","type":"quantitative","scale":{"domain":[0,2.75],"nice":false,"zero":false},"axis":null},"y":{"field":"E","type":"quantitative","scale":{"domain":[-5,5],"nice":false,"zero":false},"axis":null},"text":{"field":"t"}}}
   ],
   "resolve":{"axis":{"x":"independent","y":"independent"}}},
  {"width":172,"height":247,
   "layer":[
    {"data":{"name":"dos"},"transform":[{"filter":"datum.p==='c'"},{"flatten":["v"]}],
     "mark":{"type":"line","strokeWidth":1,"clip":true},
     "encoding":{
      "x":{"field":"v[1]","type":"quantitative","scale":{"domain":[0,3.5],"nice":false,"zero":false},"axis":{"orient":"bottom","values":[0,0.5,1,1.5,2,2.5,3,3.5],"labelExpr":"datum.value%1===0?''+datum.value:''","tickSize":{"condition":{"test":"datum.value%1!==0","value":-3},"value":-5},"labelPadding":8,"title":"DOS (states/eV)","titlePadding":4}},
      "y":{"field":"v[0]","type":"quantitative","scale":{"domain":[-5,5],"nice":false,"zero":false},"axis":{"orient":"left","values":[-5,-4.5,-4,-3.5,-3,-2.5,-2,-1.5,-1,-0.5,0,0.5,1,1.5,2,2.5,3,3.5,4,4.5,5],"labels":false,"tickSize":{"condition":{"test":"datum.value%1!==0","value":-3},"value":-5},"title":null}},
      "color":{"field":"s","type":"nominal","scale":{"domain":["H-1s","B-2p","As-4p"],"range":["#e8201c","#bc8f8f","#ffa500"]},"legend":{"orient":"none","legendX":98,"legendY":71,"title":null}},
      "order":{"field":"v[0]","type":"quantitative"}}},
    {"data":{"values":[]},"mark":"point","encoding":{
      "x":{"field":"x","type":"quantitative","scale":{"domain":[0,3.5],"nice":false,"zero":false},"axis":{"orient":"top","values":[0,0.5,1,1.5,2,2.5,3,3.5],"labels":false,"tickSize":{"condition":{"test":"datum.value%1!==0","value":-3},"value":-5},"title":null}},
      "y":{"field":"y","type":"quantitative","scale":{"domain":[-5,5],"nice":false,"zero":false},"axis":{"orient":"right","values":[-5,-4.5,-4,-3.5,-3,-2.5,-2,-1.5,-1,-0.5,0,0.5,1,1.5,2,2.5,3,3.5,4,4.5,5],"labels":false,"tickSize":{"condition":{"test":"datum.value%1!==0","value":-3},"value":-5},"title":null}}}}
   ],
   "resolve":{"axis":{"x":"independent","y":"independent"}}}
 ],"spacing":8,"bounds":"flush","resolve":{"scale":{"color":"independent"}}},
 {"hconcat":[
  {"width":173,"height":247,
   "layer":[
    {"data":{"name":"bands"},"transform":[{"filter":"datum.p==='d'"},{"flatten":["v"]}],
     "mark":{"type":"line","color":"#e41a1c","strokeWidth":1.3,"interpolate":"monotone","clip":true},
     "encoding":{
      "x":{"field":"v[0]","type":"quantitative","scale":{"domain":[0,2.75],"nice":false,"zero":false},"axis":{"orient":"bottom","values":[0,1,1.585,2.75],"labelExpr":"datum.value<0.5||datum.value>2?'Γ':datum.value<1.3?'M':'K'","ticks":false,"labelPadding":3,"title":null}},
      "y":{"field":"v[1]","type":"quantitative","scale":{"domain":[-4,3],"nice":false,"zero":false},"axis":{"orient":"left","values":[-4,-3.5,-3,-2.5,-2,-1.5,-1,-0.5,0,0.5,1,1.5,2,2.5,3],"labelExpr":"datum.value%1===0?''+datum.value:''","tickSize":{"condition":{"test":"datum.value%1!==0","value":-3},"value":-5},"labelPadding":8,"title":"E (eV)","titlePadding":3}},
      "detail":{"field":"b"}}},
    {"data":{"values":[]},"mark":"point","encoding":{
      "x":{"field":"x","type":"quantitative","scale":{"domain":[0,2.75],"nice":false,"zero":false},"axis":null},
      "y":{"field":"y","type":"quantitative","scale":{"domain":[-4,3],"nice":false,"zero":false},"axis":{"orient":"right","values":[-4,-3.5,-3,-2.5,-2,-1.5,-1,-0.5,0,0.5,1,1.5,2,2.5,3],"labels":false,"tickSize":{"condition":{"test":"datum.value%1!==0","value":-3},"value":-5},"title":null}}}},
    {"data":{"values":[{"k":1},{"k":1.585}]},"mark":{"type":"rule","color":"#66dd66","strokeDash":[4,3],"strokeWidth":1},
     "encoding":{"x":{"field":"k","type":"quantitative","scale":{"domain":[0,2.75],"nice":false,"zero":false},"axis":null}}},
    {"data":{"values":[{"k":1.33,"E":-0.46,"t":"(d)"}]},"mark":{"type":"text","font":"Open Sans","fontSize":24,"color":"#1a1a1a"},
     "encoding":{"x":{"field":"k","type":"quantitative","scale":{"domain":[0,2.75],"nice":false,"zero":false},"axis":null},"y":{"field":"E","type":"quantitative","scale":{"domain":[-4,3],"nice":false,"zero":false},"axis":null},"text":{"field":"t"}}}
   ],
   "resolve":{"axis":{"x":"independent","y":"independent"}}},
  {"width":173,"height":247,
   "layer":[
    {"data":{"name":"dos"},"transform":[{"filter":"datum.p==='d'"},{"flatten":["v"]}],
     "mark":{"type":"line","strokeWidth":1,"clip":true},
     "encoding":{
      "x":{"field":"v[1]","type":"quantitative","scale":{"domain":[0,1],"nice":false,"zero":false},"axis":{"orient":"bottom","values":[0,0.25,0.5,0.75,1],"labelExpr":"datum.value%0.5===0?''+datum.value:''","tickSize":{"condition":{"test":"datum.value%0.5!==0","value":-3},"value":-5},"labelPadding":8,"title":"DOS (states/eV)","titlePadding":4}},
      "y":{"field":"v[0]","type":"quantitative","scale":{"domain":[-4,3],"nice":false,"zero":false},"axis":{"orient":"left","values":[-4,-3.5,-3,-2.5,-2,-1.5,-1,-0.5,0,0.5,1,1.5,2,2.5,3],"labels":false,"tickSize":{"condition":{"test":"datum.value%1!==0","value":-3},"value":-5},"title":null}},
      "color":{"field":"s","type":"nominal","scale":{"domain":["F-2p","B-2p","As-4p"],"range":["#e8201c","#bc8f8f","#ffa500"]},"legend":{"orient":"none","legendX":100,"legendY":71,"title":null}},
      "order":{"field":"v[0]","type":"quantitative"}}},
    {"data":{"values":[]},"mark":"point","encoding":{
      "x":{"field":"x","type":"quantitative","scale":{"domain":[0,1],"nice":false,"zero":false},"axis":{"orient":"top","values":[0,0.25,0.5,0.75,1],"labels":false,"tickSize":{"condition":{"test":"datum.value%0.5!==0","value":-3},"value":-5},"title":null}},
      "y":{"field":"y","type":"quantitative","scale":{"domain":[-4,3],"nice":false,"zero":false},"axis":{"orient":"right","values":[-4,-3.5,-3,-2.5,-2,-1.5,-1,-0.5,0,0.5,1,1.5,2,2.5,3],"labels":false,"tickSize":{"condition":{"test":"datum.value%1!==0","value":-3},"value":-5},"title":null}}}}
   ],
   "resolve":{"axis":{"x":"independent","y":"independent"}}}
 ],"spacing":9,"bounds":"flush","resolve":{"scale":{"color":"independent"}}}
],"spacing":9,"resolve":{"scale":{"color":"independent"}}}
],
"spacing":0,
"resolve":{"scale":{"color":"independent"}},
"config":{
 "view":{"stroke":"#666","strokeWidth":1},
 "axis":{"domain":false,"grid":false,"labelFont":"Liberation Serif","labelFontSize":10,"labelColor":"#111","titleFont":"Liberation Serif","titleFontSize":10,"titleFontWeight":"normal","titleColor":"#111","tickColor":"#666","tickWidth":1,"labelFlush":false,"labelOverlap":false,"labelBound":false},
 "legend":{"symbolType":"stroke","symbolSize":225,"symbolStrokeWidth":1.5,"labelFont":"Liberation Serif","labelFontSize":10,"labelColor":"#111","fillColor":"white","strokeColor":"#555","padding":6,"rowPadding":0,"labelOffset":6}
}
}
